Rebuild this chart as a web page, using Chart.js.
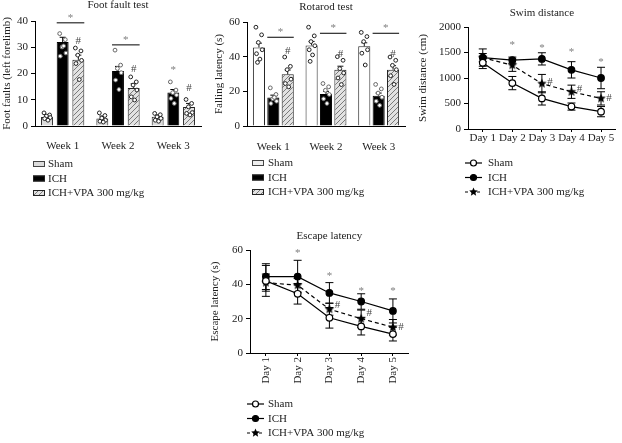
<!DOCTYPE html>
<html><head><meta charset="utf-8">
<script src="https://cdn.jsdelivr.net/npm/chart.js@4.4.0/dist/chart.umd.min.js"></script>
<style>
html,body{margin:0;padding:0;background:#fff;width:622px;height:443px;overflow:hidden;position:relative}
canvas{position:absolute}
</style></head><body>
<canvas id="c1" width="205" height="205" style="left:0px;top:-1px"></canvas>
<canvas id="c2" width="208" height="205" style="left:200px;top:0px"></canvas>
<canvas id="c3" width="212" height="205" style="left:410px;top:0px"></canvas>
<canvas id="c4" width="215" height="223" style="left:200px;top:220px"></canvas>
<script>
// ---------- DATA ----------
const weeks = ['Week 1', 'Week 2', 'Week 3'];
const days = ['Day 1', 'Day 2', 'Day 3', 'Day 4', 'Day 5'];
const groupNames = ['Sham', 'ICH', 'ICH+VPA 300 mg/kg'];

// Foot fault test (means, SEM, individual animals)
const ffSham = [3.4, 2.9, 3.5];
const ffIch = [32, 21, 12.8];
const ffVpa = [25.2, 14.5, 7.2];
const ffShamSem = [0.9, 0.9, 0.7];
const ffIchSem = [1.8, 1.7, 1.1];
const ffVpaSem = [1.8, 1.6, 1.4];
const ffShamDots = [[5, 4.2, 3.8, 3.2, 2.8, 2.2], [5, 4, 3, 2.2, 1.8, 1.5], [4.8, 4.3, 3.5, 2.9, 2.2, 1.8]];
const ffIchDots = [[35.2, 32.9, 30.1, 27.8, 26.6, 30.5], [28.9, 23.2, 21.9, 20.3, 17.5, 13.9], [16.8, 13.7, 12.7, 11.8, 10.5, 8.6]];
const ffVpaDots = [[29.7, 28.6, 27, 25, 23.8, 17.7], [18.7, 16.8, 15.6, 13.7, 11.1, 9.9], [10.1, 8.6, 7.3, 5.1, 4.8, 4.2]];
const ffBrackets = [39.3, 30.9, null];
const ffIchStar = [null, null, 21.3];
const ffHash = [32.4, 21.7, 14.5];

// Rotarod test
const rrSham = [45.3, 46.5, 46];
const rrIch = [16.5, 18.5, 17.5];
const rrVpa = [29.8, 32.5, 32.5];
const rrShamSem = [2.5, 2.3, 2];
const rrIchSem = [1.3, 1.5, 1.5];
const rrVpaSem = [2.5, 2, 2.3];
const rrShamDots = [[57, 52.6, 48.2, 44, 41.7, 38.6, 36.7], [57, 52, 48.7, 46.3, 44, 41, 37.3], [54, 51.6, 48.7, 44, 42, 35.2]];
const rrIchDots = [[22, 18.2, 15.7, 14.3, 13, 16.5], [24.5, 22.6, 20.6, 18.2, 15.7, 13], [24, 21.4, 19, 16.6, 14.3, 11.9]];
const rrVpaDots = [[39.8, 34.4, 32.5, 27, 24.5, 22.6], [40, 37.9, 33.1, 30.6, 27.7, 23.9], [39.8, 37.9, 35, 32.5, 29, 24]];
const rrBrackets = [51.2, 53.5, 53.5];
const rrIchStar = [null, null, null];
const rrHash = [43, 41.5, 41.5];

// Swim distance
const swSham = [1300, 900, 600, 440, 340];
const swIch = [1400, 1350, 1375, 1160, 1000];
const swVpa = [1400, 1250, 890, 730, 600];
const swShamErr = [115, 130, 130, 70, 100];
const swIchErr = [170, 60, 120, 160, 210];
const swVpaErr = [80, 120, 180, 130, 130];
const swStars = [null, 1650, 1590, 1500, 1315];
const swHash = [null, null, 925, 775, 600];

// Escape latency
const elSham = [42, 34.5, 20.5, 15.5, 11];
const elIch = [44.5, 44.5, 35, 30, 24.5];
const elVpa = [41, 39.5, 25.5, 20, 15];
const elShamErr = [9, 6, 6, 5, 4];
const elIchErr = [7.5, 9.5, 6, 4.5, 7];
const elVpaErr = [5, 4, 3.5, 5, 4.5];
const elStars = [null, 58, 44.8, 36, 36];
const elHash = [null, null, 28, 23, 15];

// ---------- STYLE ----------
const FONT = "'Liberation Serif', 'Times New Roman', serif";
Chart.defaults.font.family = FONT;
Chart.defaults.font.size = 11;
Chart.defaults.color = '#222';
const STARC = '#7f7f7f', HASHC = '#444';

function hatchPattern(ctx) {
  const c = document.createElement('canvas'); c.width = 5; c.height = 5;
  const x = c.getContext('2d');
  x.fillStyle = '#e2e2e2'; x.fillRect(0, 0, 5, 5);
  x.strokeStyle = '#7a7a7a'; x.lineWidth = 1;
  x.beginPath(); x.moveTo(0, 5); x.lineTo(5, 0); x.moveTo(-1, 1); x.lineTo(1, -1); x.moveTo(4, 6); x.lineTo(6, 4); x.stroke();
  return ctx.createPattern(c, 'repeat');
}
function starCanvas(r) {
  const s = Math.ceil(r * 2 + 2); const c = document.createElement('canvas'); c.width = c.height = s;
  const x = c.getContext('2d'); x.fillStyle = '#000'; x.beginPath();
  for (let i = 0; i < 10; i++) { const a = -Math.PI / 2 + i * Math.PI / 5; const rr = i % 2 ? r * 0.45 : r; x.lineTo(s / 2 + rr * Math.cos(a), s / 2 + rr * Math.sin(a)); }
  x.closePath(); x.fill(); return c;
}
const STAR_IMG = starCanvas(5);

function drawStar(ctx, cx, cy, r) {
  ctx.beginPath();
  for (let i = 0; i < 10; i++) { const a = -Math.PI / 2 + i * Math.PI / 5; const rr = i % 2 ? r * 0.45 : r; ctx.lineTo(cx + rr * Math.cos(a), cy + rr * Math.sin(a)); }
  ctx.closePath(); ctx.fillStyle = '#000'; ctx.fill();
}
function mark(ctx, txt, x, y, color) {
  ctx.save(); ctx.fillStyle = color; ctx.font = '11px ' + FONT; ctx.textAlign = 'center'; ctx.textBaseline = 'middle';
  ctx.fillText(txt, x, y); ctx.restore();
}

// ---------- PLUGINS ----------
const JIT = [-0.25, 0.22, -0.05, 0.27, -0.2, 0.08, -0.12];
const barExtras = {
  id: 'barExtras',
  afterDatasetsDraw(chart, args, o) {
    const ctx = chart.ctx, y = chart.scales.y;
    const metas = [0, 1, 2].map(i => chart.getDatasetMeta(i));
    ctx.save();
    metas.forEach((m, di) => {
      m.data.forEach((bar, i) => {
        const mean = chart.data.datasets[di].data[i], e = o.sems[di][i];
        const yt = y.getPixelForValue(mean + e), ym = y.getPixelForValue(mean);
        ctx.strokeStyle = di === 1 ? '#000' : '#111'; ctx.lineWidth = 1;
        ctx.beginPath(); ctx.moveTo(bar.x, ym); ctx.lineTo(bar.x, yt);
        ctx.moveTo(bar.x - 3, yt); ctx.lineTo(bar.x + 3, yt); ctx.stroke();
        o.dots[di][i].forEach((v, k) => {
          const px = bar.x + JIT[k % JIT.length] * bar.width, py = y.getPixelForValue(v);
          ctx.beginPath(); ctx.arc(px, py, 1.9, 0, Math.PI * 2);
          ctx.fillStyle = '#fff'; ctx.fill(); ctx.strokeStyle = di === 1 ? '#666' : '#222'; ctx.lineWidth = 1; ctx.stroke();
        });
      });
    });
    metas[1].data.forEach((bar, i) => {
      const vb = metas[2].data[i];
      if (o.brackets[i] != null) {
        const py = y.getPixelForValue(o.brackets[i]);
        ctx.strokeStyle = '#000'; ctx.lineWidth = 1;
        ctx.beginPath(); ctx.moveTo(bar.x - bar.width / 2, py); ctx.lineTo(vb.x + vb.width / 2, py); ctx.stroke();
        mark(ctx, '*', (bar.x + vb.x) / 2, py - 5, STARC);
      }
      if (o.ichStar[i] != null) mark(ctx, '*', bar.x, y.getPixelForValue(o.ichStar[i]), STARC);
      if (o.hash[i] != null) mark(ctx, '#', vb.x, y.getPixelForValue(o.hash[i]), HASHC);
    });
    ctx.restore();
  }
};
const lineExtras = {
  id: 'lineExtras',
  beforeDatasetsDraw(chart, args, o) {
    const ctx = chart.ctx, y = chart.scales.y;
    ctx.save(); ctx.strokeStyle = '#000'; ctx.lineWidth = 1;
    [0, 1, 2].forEach(di => {
      chart.getDatasetMeta(di).data.forEach((pt, i) => {
        const m = chart.data.datasets[di].data[i], e = o.errs[di][i];
        const y1 = y.getPixelForValue(m + e), y2 = y.getPixelForValue(m - e);
        ctx.beginPath(); ctx.moveTo(pt.x, y1); ctx.lineTo(pt.x, y2);
        ctx.moveTo(pt.x - 4, y1); ctx.lineTo(pt.x + 4, y1);
        ctx.moveTo(pt.x - 4, y2); ctx.lineTo(pt.x + 4, y2); ctx.stroke();
      });
    });
    ctx.restore();
  },
  afterDatasetsDraw(chart, args, o) {
    const ctx = chart.ctx, y = chart.scales.y;
    const pts = chart.getDatasetMeta(2).data;
    pts.forEach((pt, i) => {
      if (o.stars[i] != null) mark(ctx, '*', pt.x, y.getPixelForValue(o.stars[i]), STARC);
      if (o.hash[i] != null) mark(ctx, '#', pt.x + 8, y.getPixelForValue(o.hash[i]), HASHC);
    });
  }
};
const legendBox = {
  id: 'legendBox',
  afterDraw(chart, args, o) {
    const ctx = chart.ctx;
    ctx.save();
    ctx.font = '11px ' + FONT; ctx.textBaseline = 'middle'; ctx.textAlign = 'left'; ctx.fillStyle = '#222';
    chart.data.datasets.forEach((ds, i) => {
      const yy = o.y0 + i * o.dy;
      if (o.kind === 'bar') {
        ctx.fillStyle = o.fills[i]; ctx.fillRect(o.x, yy - 3, 12, 6);
        ctx.strokeStyle = i === 0 ? '#444' : '#222'; ctx.lineWidth = 1; ctx.strokeRect(o.x + 0.5, yy - 2.5, 11, 5);
      } else {
        ctx.strokeStyle = '#000'; ctx.lineWidth = 1.2;
        ctx.setLineDash(i === 2 ? [3, 3] : []);
        ctx.beginPath(); ctx.moveTo(o.x, yy); ctx.lineTo(o.x + 17, yy); ctx.stroke(); ctx.setLineDash([]);
        const cx = o.x + 8.5;
        if (i === 2) drawStar(ctx, cx, yy, 4.5);
        else { ctx.beginPath(); ctx.arc(cx, yy, 3, 0, Math.PI * 2); ctx.fillStyle = i === 0 ? '#fff' : '#000'; ctx.fill(); ctx.strokeStyle = '#000'; ctx.stroke(); }
      }
      ctx.fillStyle = '#222'; ctx.fillText(ds.label, o.tx, yy + 0.5);
    });
    ctx.restore();
  }
};

// ---------- CHART BUILDERS ----------
function barChart(id, title, vals, sems, dots, brackets, ichStar, hash, ymax, step, ytitle, lay, shamFill) {
  const cv = document.getElementById(id), ctx = cv.getContext('2d');
  const pat = hatchPattern(ctx);
  return new Chart(cv, {
    type: 'bar',
    data: {
      labels: weeks, datasets: [
        { label: groupNames[0], data: vals[0], backgroundColor: shamFill, borderColor: '#222', borderWidth: 1 },
        { label: groupNames[1], data: vals[1], backgroundColor: '#000', borderColor: '#000', borderWidth: 1 },
        { label: groupNames[2], data: vals[2], backgroundColor: pat, borderColor: '#222', borderWidth: 1 }
      ]
    },
    options: {
      responsive: false, animation: false, events: [],
      layout: { padding: lay.pad },
      datasets: { bar: { categoryPercentage: lay.cat, barPercentage: lay.bar } },
      plugins: {
        legend: { display: false }, tooltip: { enabled: false },
        title: { display: true, text: title, fullSize: false, padding: lay.tpad, font: { size: 11, weight: 'normal' }, color: '#222' },
        barExtras: { sems, dots, brackets, ichStar, hash },
        legendBox: { kind: 'bar', x: lay.lx, tx: lay.ltx, y0: lay.ly, dy: 14.5, fills: [shamFill === '#fff' ? '#eee' : shamFill, '#000', pat] }
      },
      scales: {
        x: { grid: { display: false }, border: { display: true, color: '#000' }, ticks: { padding: lay.xpad, color: '#222', font: { size: 11 } }, afterFit(s) { s.height = lay.xh; } },
        y: {
          min: 0, max: ymax, ticks: { stepSize: step, padding: 3, color: '#222', font: { size: 11 }, callback: v => String(v) },
          grid: { drawOnChartArea: false, drawTicks: true, tickLength: 4, color: '#000' }, border: { color: '#000' },
          title: { display: true, text: ytitle, padding: { top: lay.ytp, bottom: 0 }, font: { size: 11 }, color: '#222' },
          afterFit(s) { s.width = lay.yw; }
        }
      }
    },
    plugins: [barExtras, legendBox]
  });
}

function lineChart(id, title, vals, errs, stars, hash, ymax, step, ytitle, lay) {
  const cv = document.getElementById(id);
  return new Chart(cv, {
    type: 'line',
    data: {
      labels: days, datasets: [
        { label: groupNames[0], data: vals[0], borderColor: '#000', borderWidth: 1.2, pointStyle: 'circle', pointRadius: 3.3, pointBackgroundColor: '#fff', pointBorderColor: '#000', pointBorderWidth: 1.2, tension: 0 },
        { label: groupNames[1], data: vals[1], borderColor: '#000', borderWidth: 1.2, pointStyle: 'circle', pointRadius: 3.3, pointBackgroundColor: '#000', pointBorderColor: '#000', tension: 0 },
        { label: groupNames[2], data: vals[2], borderColor: '#000', borderWidth: 1.2, borderDash: [4, 3], pointStyle: STAR_IMG, pointRadius: 5, tension: 0 }
      ]
    },
    options: {
      responsive: false, animation: false, events: [],
      layout: { padding: lay.pad },
      plugins: {
        legend: { display: false }, tooltip: { enabled: false },
        title: { display: true, text: title, fullSize: false, padding: lay.tpad, font: { size: 11, weight: 'normal' }, color: '#222' },
        lineExtras: { errs, stars, hash },
        legendBox: { kind: 'line', x: lay.lx, tx: lay.ltx, y0: lay.ly, dy: 14.5 }
      },
      scales: {
        x: {
          offset: true, grid: { display: true, drawOnChartArea: false, drawTicks: true, tickLength: 3, color: '#000', offset: false }, border: { display: true, color: '#000' },
          ticks: { padding: lay.xpad, color: '#222', font: { size: 11 }, minRotation: lay.rot, maxRotation: lay.rot, autoSkip: false },
          afterFit(s) { s.height = lay.xh; }
        },
        y: {
          min: 0, max: ymax, ticks: { stepSize: step, padding: 3, color: '#222', font: { size: 11 }, callback: v => String(v) },
          grid: { drawOnChartArea: false, drawTicks: true, tickLength: 4, color: '#000' }, border: { color: '#000' },
          title: { display: true, text: ytitle, padding: { top: lay.ytp, bottom: 0 }, font: { size: 11 }, color: '#222' },
          afterFit(s) { s.width = lay.yw; }
        }
      }
    },
    plugins: [lineExtras, legendBox]
  });
}

barChart('c1', 'Foot fault test', [ffSham, ffIch, ffVpa], [ffShamSem, ffIchSem, ffVpaSem], [ffShamDots, ffIchDots, ffVpaDots],
  ffBrackets, ffIchStar, ffHash, 40, 10, 'Foot faults (left forelimb)',
  { pad: { left: 0, right: 4, top: 0, bottom: 53 }, tpad: { top: 0, bottom: 8.8 }, cat: 0.85, bar: 0.76, xpad: 6, xh: 25, ytp: 1, yw: 35, lx: 33, ltx: 48, ly: 165 }, '#dcdcdc');

barChart('c2', 'Rotarod test', [rrSham, rrIch, rrVpa], [rrShamSem, rrIchSem, rrVpaSem], [rrShamDots, rrIchDots, rrVpaDots],
  rrBrackets, rrIchStar, rrHash, 60, 20, 'Falling latency (s)',
  { pad: { left: 0, right: 3, top: 0, bottom: 54 }, tpad: { top: 0.4, bottom: 8.4 }, cat: 0.82, bar: 0.84, xpad: 7, xh: 25, ytp: 13, yw: 47, lx: 52, ltx: 68, ly: 163 }, '#fff');

lineChart('c3', 'Swim distance', [swSham, swIch, swVpa], [swShamErr, swIchErr, swVpaErr], swStars, swHash, 2000, 500, 'Swim distance (cm)',
  { pad: { left: 0, right: 1, top: 0, bottom: 51 }, tpad: { top: 6.4, bottom: 7.4 }, xpad: 0, xh: 25, rot: 0, ytp: 6.4, yw: 58, lx: 55, ltx: 78, ly: 163 });

lineChart('c4', 'Escape latency', [elSham, elIch, elVpa], [elShamErr, elIchErr, elVpaErr], elStars, elHash, 60, 20, 'Escape latency (s)',
  { pad: { left: 0, right: 5, top: 0, bottom: 55 }, tpad: { top: 9.4, bottom: 7.4 }, xpad: 1, xh: 35, rot: 90, ytp: 8.4, yw: 50, lx: 47, ltx: 68, ly: 184 });
</script>
</body></html>
